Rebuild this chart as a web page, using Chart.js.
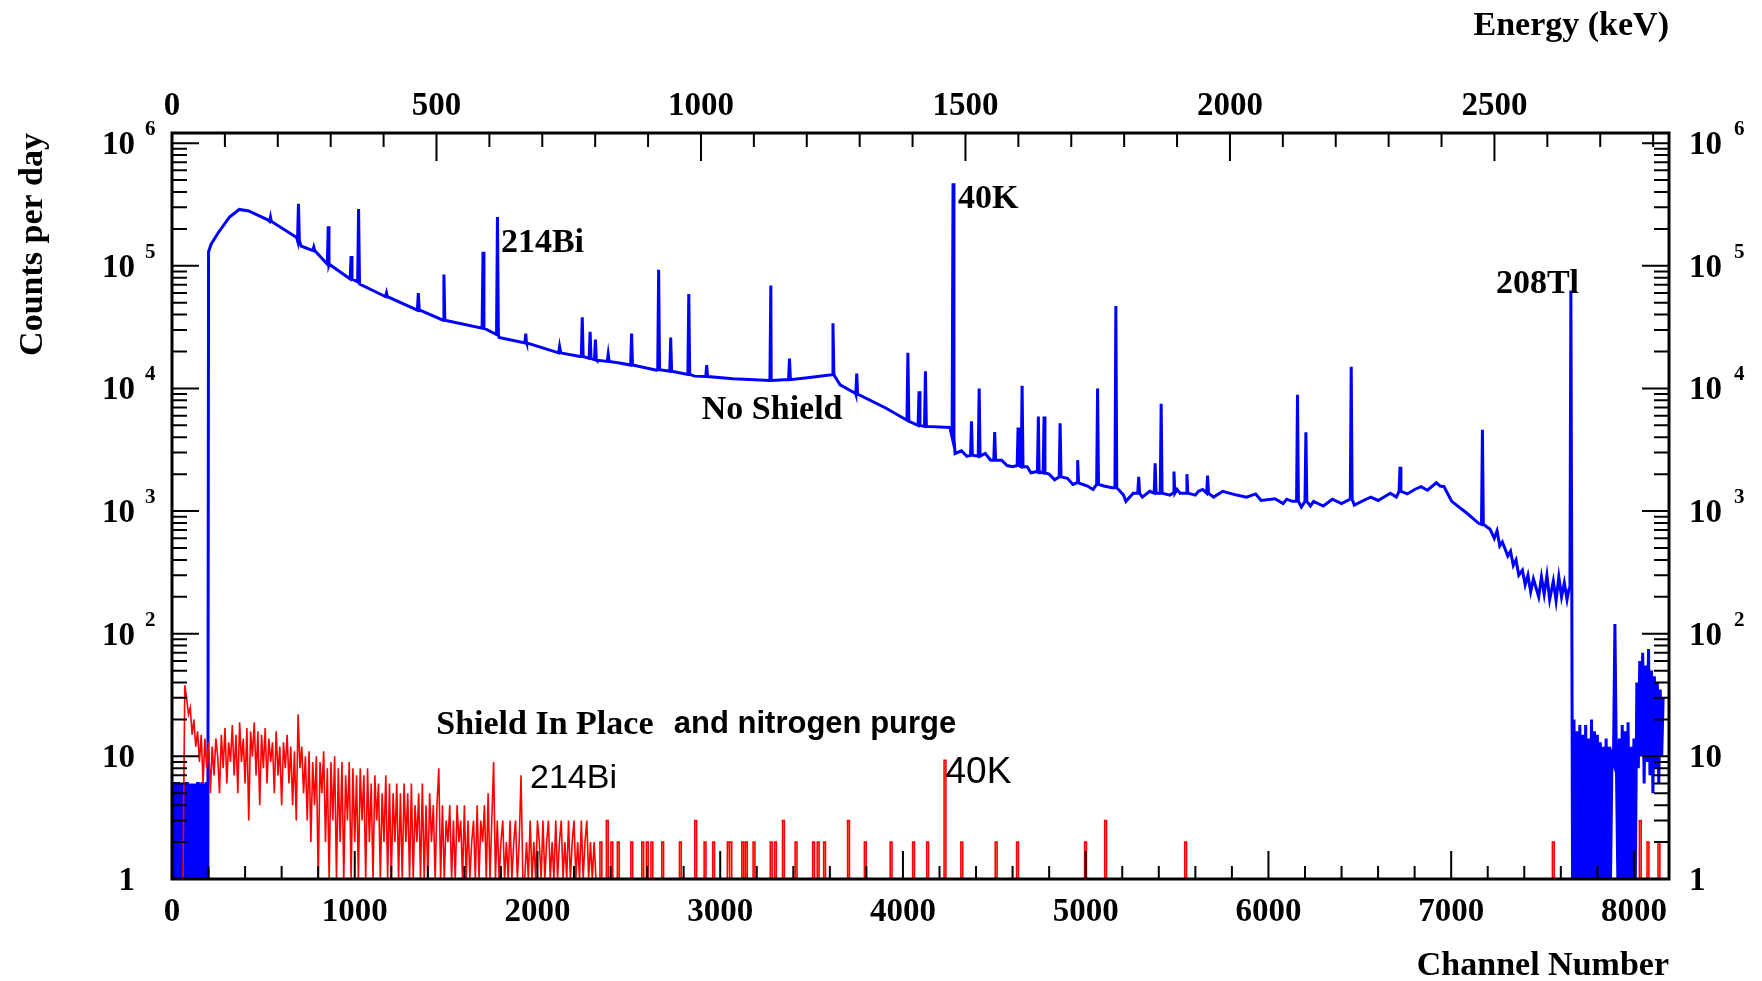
<!DOCTYPE html>
<html>
<head>
<meta charset="utf-8">
<title>Counts per day - No Shield / Shield In Place</title>
<script src="https://cdn.jsdelivr.net/npm/chart.js@4.4.1/dist/chart.umd.min.js"></script>
<style>
  html, body { margin: 0; padding: 0; background: #fff; }
  canvas { display: block; }
</style>
</head>
<body>
<canvas id="canvas" width="1762" height="981"></canvas>
<script>
// axis ranges and tick labels
const CHANNEL_MAX = 8192;
const ENERGY_MAX = 2830;
const COUNTS_MIN = 1;
const COUNTS_MAX = 1.21e6;
const channelTicks = [0, 1000, 2000, 3000, 4000, 5000, 6000, 7000, 8000];
const energyTicks = [0, 500, 1000, 1500, 2000, 2500];
const countDecades = [0, 1, 2, 3, 4, 5, 6];

// "No Shield" (blue) - low channel noise, bins of 4 channels from 0
const BLUE_LOW_STEP = 4;
const blueLowCounts = [6, 1, 6, 6, 1, 6, 6, 1, 6, 6, 1, 6, 6, 1, 6, 6, 1, 5, 6, 1,
  6, 6, 1, 6, 5, 1, 6, 6, 1, 6, 6, 1, 5, 6, 1, 6, 6, 1, 4, 6,
  1, 6, 6, 1, 6, 5, 1, 6, 6, 1];

// "No Shield" continuum
const blueCh = [200, 214, 253, 315, 368, 420, 524, 682, 706, 859,
  1027, 1153, 1363, 1488, 1698, 1790, 1939, 2126, 2233, 2325,
  2441, 2652, 2860, 3070, 3279, 3489, 3610, 3656, 3741, 3908,
  4033, 4118, 4257, 4285, 4320, 4350, 4412, 4450, 4480, 4540,
  4570, 4600, 4680, 4700, 4745, 4800, 4830, 4900, 4930, 4956,
  5010, 5040, 5100, 5144, 5207, 5220, 5260, 5310, 5350, 5376,
  5460, 5500, 5516, 5600, 5617, 5640, 5700, 5750, 5826, 5880,
  5930, 5960, 6036, 6080, 6100, 6131, 6180, 6230, 6247, 6300,
  6350, 6400, 6458, 6470, 6520, 6560, 6600, 6667, 6700, 6760,
  6800, 6835, 6870, 6919, 6940, 6961, 7003, 7088, 7150, 7213,
  7236, 7251, 7266, 7280, 7310, 7325, 7340, 7355, 7370, 7390,
  7405, 7420, 7435, 7450, 7479, 7494, 7509, 7524, 7539, 7559,
  7574, 7589, 7604, 7619, 7634, 7644];
const blueCounts = [1.3e5, 1.5e5, 1.86e5, 2.5e5, 2.88e5, 2.8e5, 2.37e5, 1.7e5, 1.45e5, 1.02e5,
  7.1e4, 5.75e4, 4.3e4, 3.6e4, 3.1e4, 2.6e4, 2.4e4, 2.0e4, 1.82e4, 1.7e4,
  1.62e4, 1.41e4, 1.26e4, 1.2e4, 1.16e4, 1.23e4, 1.29e4, 1.07e4, 9.1e3, 6.9e3,
  5.4e3, 4.9e3, 4.8e3, 2.95e3, 3.1e3, 2.8e3, 2.8e3, 2.95e3, 2.6e3, 2.6e3,
  2.35e3, 2.3e3, 2.3e3, 2.05e3, 2.05e3, 2.0e3, 1.8e3, 1.85e3, 1.65e3, 1.7e3,
  1.6e3, 1.5e3, 1.6e3, 1.55e3, 1.35e3, 1.2e3, 1.4e3, 1.3e3, 1.45e3, 1.4e3,
  1.35e3, 1.5e3, 1.4e3, 1.35e3, 1.45e3, 1.5e3, 1.3e3, 1.45e3, 1.35e3, 1.3e3,
  1.38e3, 1.22e3, 1.26e3, 1.15e3, 1.25e3, 1.2e3, 1.08e3, 1.1e3, 1.2e3, 1.1e3,
  1.25e3, 1.15e3, 1.29e3, 1.12e3, 1.22e3, 1.3e3, 1.22e3, 1.4e3, 1.3e3, 1.38e3,
  1.5e3, 1.58e3, 1.48e3, 1.7e3, 1.6e3, 1.58e3, 1.2e3, 955, 795, 710,
  600, 690, 520, 560, 430, 470, 360, 400, 300, 330,
  250, 300, 220, 280, 200, 290, 210, 300, 190, 270,
  185, 290, 200, 260, 190, 230];

// "No Shield" peaks: channel, peak height, continuum under it
const peakCh = [539, 692, 776, 855, 980, 1021, 1174, 1348, 1488, 1702,
  1781, 1936, 2121, 2245, 2288, 2317, 2387, 2515, 2663, 2729,
  2828, 2926, 3277, 3379, 3617, 3747, 4027, 4088, 4123, 4274,
  4375, 4417, 4502, 4630, 4652, 4741, 4772, 4860, 4956, 5065,
  5165, 5290, 5380, 5413, 5483, 5554, 5667, 6159, 6205, 6453,
  6720, 7171, 7655];
const peakTop = [2.5e5, 3.2e5, 1.42e5, 2.1e5, 1.2e5, 2.9e5, 6.0e4, 6.0e4, 8.5e4, 1.3e5,
  2.5e5, 2.8e4, 2.2e4, 3.8e4, 2.9e4, 2.5e4, 1.9e4, 2.8e4, 9.3e4, 2.6e4,
  5.9e4, 1.55e4, 6.9e4, 1.75e4, 3.4e4, 1.32e4, 1.95e4, 9.5e3, 1.38e4, 4.7e5,
  5.4e3, 1.0e4, 4.4e3, 4.8e3, 1.05e4, 5.9e3, 5.9e3, 5.2e3, 2.6e3, 1.0e4,
  4.7e4, 1.9e3, 2.45e3, 7.5e3, 2.1e3, 2.0e3, 1.95e3, 8.9e3, 4.4e3, 1.5e4,
  2.3e3, 4.6e3, 6.3e4];
const peakBase = [2.3e5, 1.6e5, 1.33e5, 1.03e5, 7.8e4, 7.4e4, 5.6e4, 4.35e4, 3.6e4, 3.1e4,
  2.75e4, 2.35e4, 1.95e4, 1.82e4, 1.76e4, 1.72e4, 1.66e4, 1.55e4, 1.42e4, 1.38e4,
  1.3e4, 1.25e4, 1.16e4, 1.18e4, 1.29e4, 9.0e3, 5.5e3, 5.0e3, 4.9e3, 4.0e3,
  2.85e3, 2.8e3, 2.6e3, 2.35e3, 2.3e3, 2.1e3, 2.05e3, 1.9e3, 1.7e3, 1.65e3,
  1.55e3, 1.4e3, 1.4e3, 1.4e3, 1.4e3, 1.4e3, 1.4e3, 1.2e3, 1.2e3, 1.25e3,
  1.45e3, 780, 240];

// "No Shield" above the 208Tl line, bins of 8 channels from 7664
const BLUE_TAIL_START = 7664;
const BLUE_TAIL_STEP = 8;
const blueTailCounts = [1, 20, 1, 16, 1, 18, 1, 15, 1, 18, 1, 14, 1, 20, 1, 16, 1, 15, 1, 13,
  1, 12, 1, 14, 1, 12, 1, 10, 9, 120, 9, 1, 14, 1, 18, 1, 16, 1, 19, 1,
  12, 1, 14, 1, 40, 8, 60, 10, 70, 6, 55, 9, 75, 7, 50, 5, 45, 8, 40, 6, 35, 10, 30];

// "Shield In Place and nitrogen purge" (red) - bins of 10 channels from 60
const RED_START = 60;
const RED_STEP = 10;
const redCounts = [1, 38, 30, 22, 25, 15, 20, 12, 16, 9, 15, 6, 14, 8, 13, 5, 12, 7, 14, 10,
  5, 15, 8, 17, 6, 13, 9, 18, 7, 15, 5, 19, 9, 14, 6, 17, 3, 16, 10, 19,
  7, 16, 4, 15, 8, 17, 6, 14, 9, 13, 5, 16, 7, 12, 4, 13, 8, 15, 6, 12,
  4, 11, 3, 22, 8, 12, 5, 10, 3, 11, 2, 9, 4, 10, 1, 9, 5, 11, 2, 8,
  1, 9, 3, 10, 1, 8, 2, 9, 1, 7, 3, 9, 1, 8, 2, 7, 1, 8, 3, 7,
  1, 8, 2, 6, 1, 7, 3, 6, 1, 5, 2, 7, 1, 6, 1, 5, 2, 6, 1, 5,
  1, 6, 2, 5, 1, 6, 1, 4, 2, 5, 1, 6, 1, 4, 1, 5, 2, 4, 1, 4,
  8, 1, 4, 1, 3, 2, 4, 1, 3, 1, 4, 2, 3, 1, 4, 1, 3, 1, 2, 3,
  1, 4, 1, 3, 2, 4, 1, 5, 1, 3, 9, 1, 3, 1, 2, 3, 1, 2, 1, 3,
  1, 2, 3, 1, 2, 7, 1, 1, 2, 1, 3, 1, 2, 1, 3, 2, 1, 3, 1, 2,
  3, 1, 2, 1, 3, 1, 2, 3, 1, 2, 1, 3, 1, 2, 3, 1, 2, 1, 3, 1,
  2, 3, 1, 2, 1, 2, 1];
// isolated red counts at higher channels
const redSpikeCh = [2347, 2382, 2407, 2442, 2516, 2576, 2601, 2626, 2685, 2782,
  2866, 2917, 2964, 3044, 3058, 3123, 3143, 3185, 3279, 3302,
  3346, 3415, 3511, 3536, 3571, 3702, 3794, 3935, 4058, 4135,
  4230, 4322, 4510, 4627, 4999, 5109, 5547, 7559, 8035, 8077, 8137];
const redSpikeCounts = [2, 3, 2, 2, 2, 2, 2, 2, 2, 2,
  3, 2, 2, 2, 2, 2, 2, 2, 2, 2,
  3, 2, 2, 2, 2, 3, 2, 2, 2, 2,
  9.3, 2, 2, 2, 2, 3, 2, 2, 3, 2, 2];

// build point lists
const bluePts = [];
blueLowCounts.forEach((v, i) => bluePts.push({x: i * BLUE_LOW_STEP, y: v}));
blueCh.forEach((c, i) => bluePts.push({x: c, y: blueCounts[i]}));
peakCh.forEach((c, i) => {
  bluePts.push({x: c - 5, y: peakBase[i]}, {x: c, y: peakTop[i]}, {x: c + 5, y: peakBase[i]});
});
blueTailCounts.forEach((v, i) => bluePts.push({x: BLUE_TAIL_START + i * BLUE_TAIL_STEP, y: v}));
bluePts.sort((a, b) => a.x - b.x);

const redPts = [];
redCounts.forEach((v, i) => redPts.push({x: RED_START + i * RED_STEP, y: v}));
redSpikeCh.forEach((c, i) => {
  redPts.push({x: c - 5, y: 1}, {x: c - 5, y: redSpikeCounts[i]}, {x: c + 5, y: redSpikeCounts[i]}, {x: c + 5, y: 1});
});
redPts.push({x: CHANNEL_MAX, y: 1});

const SERIF = '"Liberation Serif", "Times New Roman", serif';
const SANS = '"Liberation Sans", Arial, sans-serif';

// texts placed in data coordinates (channel, counts)
const notes = [
  {text: '214Bi', ch: 1800, v: 1.3e5, font: 'bold 34px ' + SERIF},
  {text: '40K', ch: 4301, v: 2.97e5, font: 'bold 34px ' + SERIF},
  {text: '208Tl', ch: 7245, v: 6.0e4, font: 'bold 34px ' + SERIF},
  {text: 'No Shield', ch: 2899, v: 5.66e3, font: 'bold 34px ' + SERIF},
  {text: 'Shield In Place', ch: 1446, v: 15.1, font: 'bold 34px ' + SERIF},
  {text: 'and nitrogen purge', ch: 2746, v: 15.6, font: 'bold 31px ' + SANS},
  {text: '214Bi', ch: 1959, v: 5.57, font: '34px ' + SANS},
  {text: '40K', ch: 4233, v: 6.1, font: '37px ' + SANS}
];

const rootFrame = {
  id: 'rootFrame',
  afterDatasetsDraw(chart) {
    const ctx = chart.ctx;
    const a = chart.chartArea;
    const x = chart.scales.x, x2 = chart.scales.x2, y = chart.scales.y;
    ctx.save();
    ctx.strokeStyle = '#000';
    ctx.lineWidth = 2;
    ctx.beginPath();
    // bottom: channel ticks
    for (let c = 0; c <= CHANNEL_MAX; c += 200) {
      const px = x.getPixelForValue(c);
      const len = c % 1000 === 0 ? 28 : 13;
      ctx.moveTo(px, a.bottom); ctx.lineTo(px, a.bottom - len);
    }
    // top: energy ticks
    for (let e = 0; e <= ENERGY_MAX; e += 100) {
      const px = x2.getPixelForValue(e);
      const len = e % 500 === 0 ? 28 : 14;
      ctx.moveTo(px, a.top); ctx.lineTo(px, a.top + len);
    }
    // left and right: log ticks
    countDecades.forEach(d => {
      for (let m = 1; m <= 9; m++) {
        const v = m * Math.pow(10, d);
        if (v > COUNTS_MAX) break;
        const py = y.getPixelForValue(v);
        const len = m === 1 ? 27 : 15;
        ctx.moveTo(a.left, py); ctx.lineTo(a.left + len, py);
        ctx.moveTo(a.right, py); ctx.lineTo(a.right - len, py);
      }
    });
    ctx.stroke();
    ctx.lineWidth = 3;
    ctx.strokeRect(a.left, a.top, a.right - a.left, a.bottom - a.top);

    // tick labels
    ctx.fillStyle = '#000';
    ctx.font = 'bold 33px ' + SERIF;
    ctx.textAlign = 'center';
    ctx.textBaseline = 'alphabetic';
    channelTicks.forEach(c => ctx.fillText(String(c), x.getPixelForValue(c), 921));
    energyTicks.forEach(e => ctx.fillText(String(e), x2.getPixelForValue(e), 115));

    countDecades.forEach(d => {
      const py = y.getPixelForValue(Math.pow(10, d));
      const base = d === 0 ? '1' : '10';
      ctx.font = 'bold 33px ' + SERIF;
      ctx.textAlign = 'right';
      ctx.fillText(base, a.left - 37, py + 11);
      ctx.textAlign = 'left';
      ctx.fillText(base, a.right + 20, py + 11);
      if (d >= 2) {
        const w = ctx.measureText(base).width;
        ctx.font = 'bold 21px ' + SERIF;
        ctx.fillText(String(d), a.left - 27, py - 8);
        ctx.fillText(String(d), a.right + 20 + w + 12, py - 8);
      }
    });

    // axis titles
    ctx.font = 'bold 34px ' + SERIF;
    ctx.textAlign = 'right';
    ctx.fillText('Channel Number', a.right, 975);
    ctx.fillText('Energy (keV)', a.right, 35);
    ctx.save();
    ctx.translate(42, a.top);
    ctx.rotate(-Math.PI / 2);
    ctx.textAlign = 'right';
    ctx.fillText('Counts per day', 0, 0);
    ctx.restore();

    // annotations
    ctx.textAlign = 'left';
    notes.forEach(n => {
      ctx.font = n.font;
      ctx.fillText(n.text, x.getPixelForValue(n.ch), y.getPixelForValue(n.v));
    });
    ctx.restore();
  }
};

const ctx = document.getElementById('canvas').getContext('2d');
const spectrum = new Chart(ctx, {
  type: 'line',
  data: {
    datasets: [
      {
        label: 'Shield In Place and nitrogen purge',
        data: redPts,
        borderColor: '#ff0000',
        borderWidth: 1.6,
        pointRadius: 0,
        tension: 0,
        fill: false
      },
      {
        label: 'No Shield',
        data: bluePts,
        borderColor: '#0000ff',
        borderWidth: 3,
        pointRadius: 0,
        tension: 0,
        fill: false
      }
    ]
  },
  options: {
    responsive: false,
    animation: false,
    events: [],
    layout: {
      padding: {left: 172, right: 93, top: 133, bottom: 102}
    },
    plugins: {
      legend: {display: false},
      tooltip: {enabled: false}
    },
    scales: {
      x: {type: 'linear', min: 0, max: CHANNEL_MAX, display: false},
      x2: {type: 'linear', position: 'top', min: 0, max: ENERGY_MAX, display: false},
      y: {type: 'logarithmic', min: COUNTS_MIN, max: COUNTS_MAX, display: false}
    }
  },
  plugins: [rootFrame]
});
</script>
</body>
</html>
